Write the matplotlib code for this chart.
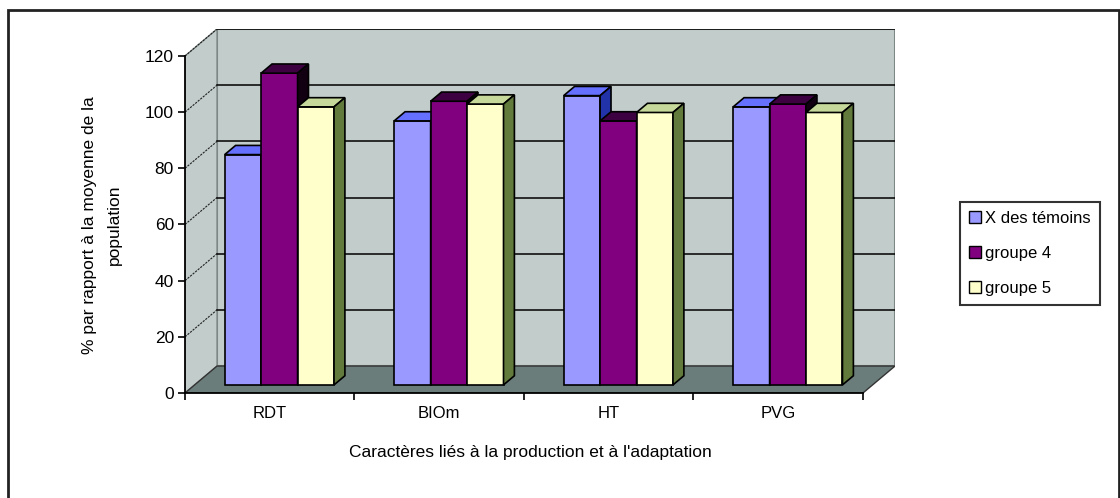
import matplotlib
matplotlib.use("Agg")
import matplotlib.pyplot as plt
from matplotlib.patches import Polygon, Patch, Rectangle

plt.rcParams['font.family'] = ['Liberation Sans', 'DejaVu Sans']

categories = ["RDT", "BIOm", "HT", "PVG"]
series_names = ["X des témoins", "groupe 4", "groupe 5"]
temoins = [82, 94, 103, 99]
groupe4 = [111, 101, 94, 100]
groupe5 = [99, 100, 97, 97]
yticks = [0, 20, 40, 60, 80, 100, 120]

# couleurs : face avant, dessus, côté
face_colors = ["#9999ff", "#800080", "#ffffcc"]
top_colors = ["#6670ff", "#3d0040", "#c6d99a"]
side_colors = ["#2233aa", "#120012", "#627a3c"]

# pseudo 3D : décalage en profondeur (unités catégorie / unités valeur)
DX = 0.189
DY = 9.6
D0, D1 = 0.30, 0.64   # profondeur des barres
W = 0.215             # largeur d'une barre
YMAX = 120


def proj(x, v, d):
    return (x + d * DX, v + d * DY)


def poly(ax, pts, fc, ec="black", lw=1.2, z=2):
    ax.add_patch(Polygon([proj(*p) for p in pts], closed=True,
                         facecolor=fc, edgecolor=ec, linewidth=lw, zorder=z))


fig = plt.figure(figsize=(11.2, 4.98), dpi=100)
ax = fig.add_axes([185 / 1120, 1 - 393 / 498, 710 / 1120, 364 / 498])
ax.patch.set_visible(False)

x0, x1 = -0.5, len(categories) - 0.5
ax.set_xlim(x0, x1 + DX)
ax.set_ylim(0, YMAX + DY)

# murs et sol
wall = "#c2cccb"
poly(ax, [(x0, 0, 1), (x1, 0, 1), (x1, YMAX, 1), (x0, YMAX, 1)], wall, ec="#7d8886", lw=1.5, z=1)
poly(ax, [(x0, 0, 0), (x0, 0, 1), (x0, YMAX, 1), (x0, YMAX, 0)], wall, ec="#7d8886", lw=1.0, z=1)
poly(ax, [(x0, 0, 0), (x1, 0, 0), (x1, 0, 1), (x0, 0, 1)], "#6b7d7a", ec="#333333", lw=1.0, z=1.5)

# quadrillage
for v in yticks[1:]:
    xs, ys = zip(proj(x0, v, 1), proj(x1, v, 1))
    ax.plot(xs, ys, color="black", lw=1.1, zorder=1.6)
    xs, ys = zip(proj(x0, v, 0), proj(x0, v, 1))
    ax.plot(xs, ys, color="#222222", lw=0.8, ls=(0, (2, 1)), zorder=1.6)

# barres
series = [temoins, groupe4, groupe5]
for i in range(len(categories)):
    for j, vals in enumerate(series):
        v = vals[i]
        xa = i - 1.5 * W + j * W
        xb = xa + W
        poly(ax, [(xa, 0, D0), (xb, 0, D0), (xb, v, D0), (xa, v, D0)], face_colors[j])
        poly(ax, [(xa, v, D0), (xb, v, D0), (xb, v, D1), (xa, v, D1)], top_colors[j])
        poly(ax, [(xb, 0, D0), (xb, 0, D1), (xb, v, D1), (xb, v, D0)], side_colors[j])

# axes
for s in ["top", "right"]:
    ax.spines[s].set_visible(False)
ax.spines["left"].set_bounds(0, YMAX)
ax.spines["bottom"].set_bounds(x0, x1)
ax.spines["left"].set_linewidth(1.3)
ax.spines["bottom"].set_linewidth(1.3)
ax.spines["left"].set_zorder(5)
ax.spines["bottom"].set_zorder(5)

ax.set_yticks(yticks)
ax.set_yticklabels([str(t) for t in yticks], fontsize=12.5)
ax.tick_params(axis="y", direction="out", length=5, width=1.2, pad=3)

ax.set_xticks([x0 + k for k in range(len(categories) + 1)])
ax.set_xticklabels([])
ax.set_xticks(range(len(categories)), minor=True)
ax.set_xticklabels(categories, minor=True, fontsize=12)
ax.tick_params(axis="x", which="major", direction="out", length=5, width=1.2)
ax.tick_params(axis="x", which="minor", length=0, pad=9)

fig.text(530 / 1120, 1 - 452 / 498,
         "Caractères liés à la production et à l'adaptation",
         ha="center", va="center", fontsize=12.5)
fig.text(102 / 1120, 1 - 225 / 498,
         "% par rapport à la moyenne de la\npopulation",
         ha="center", va="center", rotation=90, fontsize=12.5,
         multialignment="center", linespacing=1.85)

handles = [Patch(facecolor=c, edgecolor="black", linewidth=1) for c in face_colors]
leg = fig.legend(handles, series_names, loc="upper left",
                 bbox_to_anchor=(960 / 1120, 1 - 202 / 498),
                 fontsize=12, frameon=True, fancybox=False,
                 handlelength=0.7, handleheight=0.7, handletextpad=0.25,
                 labelspacing=1.2, borderpad=0.55, borderaxespad=0)
leg.get_frame().set_edgecolor("black")
leg.get_frame().set_linewidth(1.5)

# cadre du graphique
fig.patches.append(Rectangle((8 / 1120, -0.02), 1111 / 1120, 1 - 10 / 498 + 0.02,
                             transform=fig.transFigure, fill=False,
                             edgecolor="#222222", linewidth=2))

fig.savefig("out.png", dpi=100)
